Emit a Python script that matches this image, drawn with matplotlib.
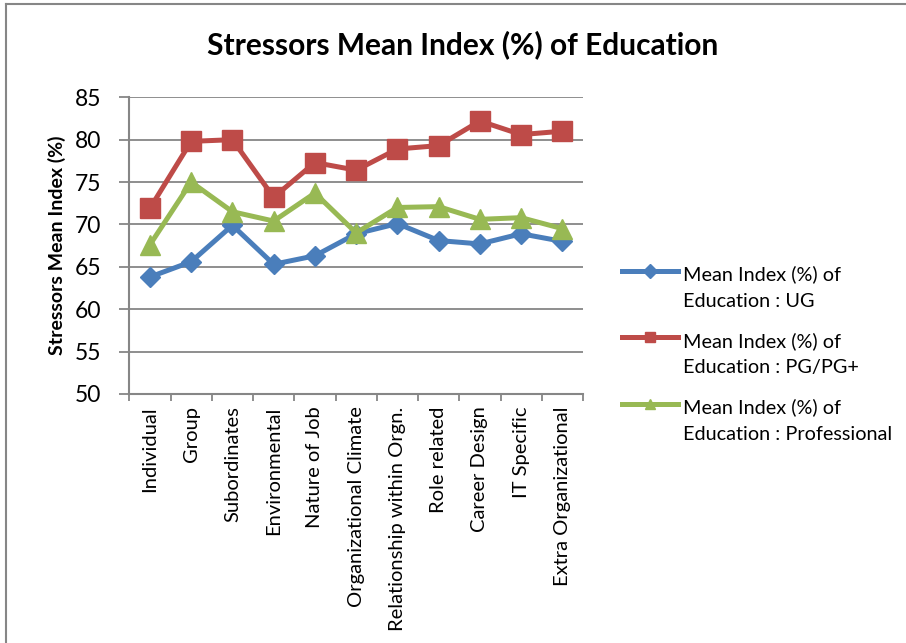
import matplotlib
matplotlib.use("Agg")
import matplotlib.pyplot as plt
from matplotlib.lines import Line2D
from matplotlib.legend_handler import HandlerLine2D

categories = ["Individual", "Group", "Subordinates", "Environmental", "Nature of Job",
              "Organizational Climate", "Relationship within Orgn.", "Role related",
              "Career Design", "IT Specific", "Extra Organizational"]
ug = [63.8, 65.6, 69.9, 65.3, 66.3, 68.9, 70.1, 68.1, 67.7, 68.9, 68.0]
pg = [71.9, 79.8, 80.0, 73.2, 77.3, 76.4, 78.9, 79.3, 82.2, 80.6, 81.0]
professional = [67.6, 75.0, 71.5, 70.4, 73.7, 69.0, 72.0, 72.1, 70.6, 70.8, 69.5]
series_labels = ["Mean Index (%) of\nEducation : UG",
                 "Mean Index (%) of\nEducation : PG/PG+",
                 "Mean Index (%) of\nEducation : Professional"]
yticks = [50, 55, 60, 65, 70, 75, 80, 85]

FONT = "Lato"
GRAY = "#868686"
LEG_LINESPACING = 1.7


class FirstLineHandler(HandlerLine2D):
    """Line handle aligned with the first row of a two-line legend label."""

    def create_artists(self, legend, orig_handle, xdescent, ydescent, width, height,
                       fontsize, trans):
        artists = super().create_artists(legend, orig_handle, xdescent, ydescent,
                                         width, height, fontsize, trans)
        shift = 0.5 * LEG_LINESPACING * fontsize
        for a in artists:
            a.set_ydata([y + shift for y in a.get_ydata()])
        return artists


fig = plt.figure(figsize=(9.06, 6.43), dpi=100)
ax = fig.add_axes([0.1427, 0.3873, 0.5008, 0.4614])

x = list(range(len(categories)))
ax.plot(x, ug, color="#4A7EBB", lw=3.6, marker="D", ms=10, mec="#4A7EBB",
        label=series_labels[0], zorder=3)
ax.plot(x, pg, color="#BE4B48", lw=3.6, marker="s", ms=14, mec="#BE4B48",
        label=series_labels[1], zorder=3)
ax.plot(x, professional, color="#98B954", lw=3.6, marker="^", ms=14, mec="#98B954",
        label=series_labels[2], zorder=4)

ax.set_xlim(-0.5, len(categories) - 0.5)
ax.set_ylim(50, 85)
ax.set_yticks(yticks)
ax.set_yticklabels([str(v) for v in yticks], fontfamily=FONT, fontsize=16.5)
ax.yaxis.grid(True, color=GRAY, lw=1.3)
ax.set_axisbelow(True)

ax.set_xticks([i - 0.5 for i in range(len(categories) + 1)], minor=False)
ax.set_xticklabels([])
ax.set_xticks(x, minor=True)
ax.set_xticklabels(categories, minor=True, rotation=90, fontfamily=FONT, fontsize=14.5,
                   va="top", ha="center")
ax.tick_params(axis="x", which="major", length=5, color=GRAY, width=1.3, direction="out")
ax.tick_params(axis="x", which="minor", length=0, pad=9)
ax.tick_params(axis="y", length=7, color=GRAY, width=1.3, pad=13)

for side in ("top", "right"):
    ax.spines[side].set_visible(False)
for side in ("left", "bottom"):
    ax.spines[side].set_color(GRAY)
    ax.spines[side].set_linewidth(1.5)

ax.set_ylabel("Stressors Mean Index (%)", fontfamily=FONT, fontweight="bold", fontsize=14)
ax.yaxis.set_label_coords(-0.14, 0.5)

fig.text(0.5105, 0.93, "Stressors Mean Index (%) of Education", ha="center", va="center",
         fontfamily=FONT, fontweight="bold", fontsize=21.5)

leg = ax.legend(loc="upper left", bbox_to_anchor=(0.6755, 0.603), bbox_transform=fig.transFigure,
                frameon=False, prop={"family": FONT, "size": 14.3}, handlelength=2.8,
                handletextpad=0.25, labelspacing=1.1, borderpad=0,
                handler_map={Line2D: FirstLineHandler()})
for t in leg.get_texts():
    t.set_linespacing(LEG_LINESPACING)
for h in leg.legend_handles:
    h.set_markersize(7)

# chart frame
fig.add_artist(Line2D([0.0062, 0.0062], [0.0, 0.9938], color=GRAY, lw=1.5,
                      transform=fig.transFigure))
fig.add_artist(Line2D([0.0062, 1.0], [0.9938, 0.9938], color=GRAY, lw=1.5,
                      transform=fig.transFigure))

fig.savefig("out.png", dpi=100)
